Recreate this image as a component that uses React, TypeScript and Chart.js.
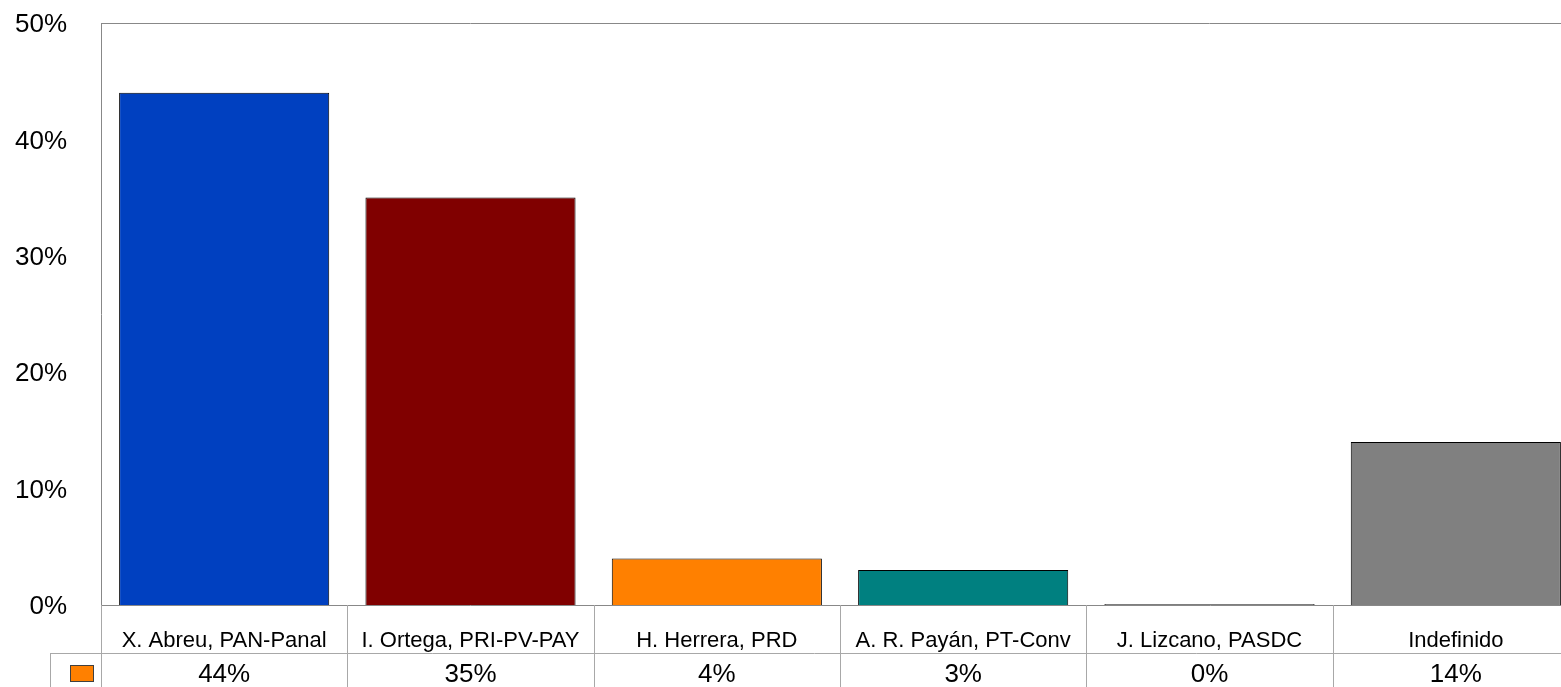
import React, { useEffect, useRef } from "react";
import { Chart, registerables } from "chart.js";

Chart.register(...registerables);

const categories = [
  "X. Abreu, PAN-Panal",
  "I. Ortega, PRI-PV-PAY",
  "H. Herrera, PRD",
  "A. R. Payán, PT-Conv",
  "J. Lizcano, PASDC",
  "Indefinido",
];
const values = [44, 35, 4, 3, 0, 14];
const tableValues = ["44%", "35%", "4%", "3%", "0%", "14%"];
const barColors = ["#0040C0", "#800000", "#FF8000", "#008080", "#808080", "#808080"];
const yTicks = [0, 10, 20, 30, 40, 50];

const FONT = "'Liberation Sans', Arial, sans-serif";

const tablePlugin = {
  id: "dataTable",
  afterDraw(chart: any) {
    const ctx = chart.ctx;
    const area = chart.chartArea;
    const xs = chart.scales.x;
    const n = categories.length;
    const step = (area.right - area.left) / n;
    const rowSplit = Math.round(area.bottom) + 48;
    const bottom = chart.height;
    ctx.save();
    // top border of plot
    ctx.strokeStyle = "#888888";
    ctx.lineWidth = 1;
    ctx.beginPath();
    ctx.moveTo(area.left, Math.round(area.top) + 0.5);
    ctx.lineTo(area.right, Math.round(area.top) + 0.5);
    ctx.stroke();
    // table grid
    ctx.strokeStyle = "#A8A8A8";
    ctx.beginPath();
    for (let i = 0; i <= n; i++) {
      const x = Math.round(area.left + i * step) + 0.5;
      ctx.moveTo(x, area.bottom);
      ctx.lineTo(x, bottom);
    }
    ctx.moveTo(50.5, rowSplit);
    ctx.lineTo(50.5, bottom);
    ctx.moveTo(50, rowSplit + 0.5);
    ctx.lineTo(area.right, rowSplit + 0.5);
    ctx.stroke();
    // texts
    ctx.fillStyle = "#000000";
    ctx.textAlign = "center";
    ctx.textBaseline = "middle";
    for (let i = 0; i < n; i++) {
      const cx = xs.getPixelForValue(i);
      ctx.font = `22px ${FONT}`;
      ctx.fillText(categories[i], cx, area.bottom + 36);
      ctx.font = `26px ${FONT}`;
      ctx.fillText(tableValues[i], cx, rowSplit + 22);
    }
    // legend key
    ctx.fillStyle = "#FF8000";
    ctx.fillRect(70, 665, 24, 16);
    ctx.strokeStyle = "#404040";
    ctx.strokeRect(70.5, 665.5, 23, 16);
    ctx.restore();
  },
};

export default function App() {
  const ref = useRef<HTMLCanvasElement>(null);
  useEffect(() => {
    const canvas = ref.current!;
    const chart = new Chart(canvas, {
      type: "bar",
      data: {
        labels: categories,
        datasets: [
          {
            data: values,
            backgroundColor: barColors,
            borderColor: "#000000",
            borderWidth: 1,
            barPercentage: 0.853,
            categoryPercentage: 1,
            minBarLength: 1,
          },
        ],
      },
      options: {
        responsive: false,
        animation: false,
        devicePixelRatio: 1,
        layout: { padding: { top: 23, right: 21, bottom: 0, left: 0 } },
        plugins: { legend: { display: false }, tooltip: { enabled: false } },
        scales: {
          x: {
            grid: { display: false, drawTicks: false },
            border: { display: true, color: "#888888", width: 1 },
            ticks: { display: false },
            afterFit: (s: any) => {
              s.height = 82;
              s.paddingLeft = 0;
              s.paddingRight = 0;
            },
          },
          y: {
            min: 0,
            max: 50,
            afterBuildTicks: (s: any) => {
              s.ticks = yTicks.map((v) => ({ value: v }));
            },
            grid: { display: false, drawTicks: false },
            border: { display: true, color: "#888888", width: 1 },
            ticks: {
              color: "#000000",
              font: { family: FONT, size: 26 },
              padding: 34,
              labelOffset: 2,
              callback: (v: any) => `${v}%`,
            },
            afterFit: (s: any) => {
              s.width = 101;
              s.paddingTop = 0;
              s.paddingBottom = 0;
            },
          },
        },
      },
      plugins: [tablePlugin],
    });
    return () => chart.destroy();
  }, []);
  return (
    <div
      style={{
        position: "fixed",
        left: 0,
        top: 0,
        width: 1561,
        height: 687,
        overflow: "hidden",
        background: "#ffffff",
      }}
    >
      <canvas ref={ref} width={1600} height={687} style={{ display: "block" }} />
    </div>
  );
}
